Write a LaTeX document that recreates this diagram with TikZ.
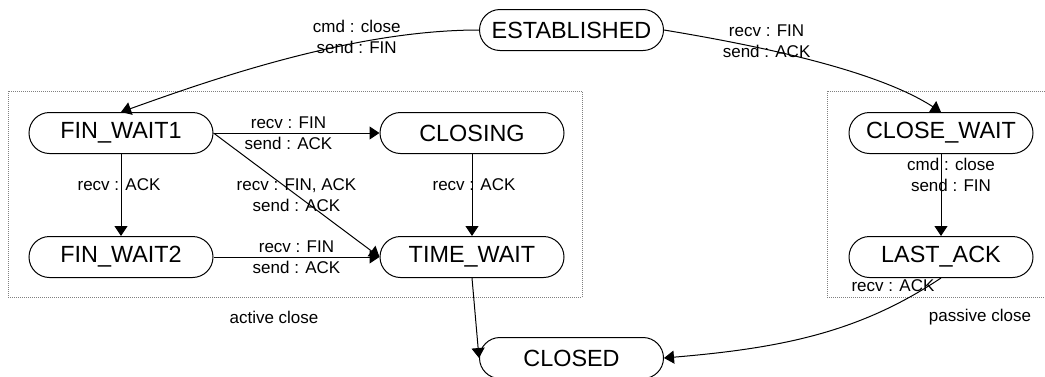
\documentclass[tikz,border=0pt]{standalone}
\usepackage{fontspec}
\setmainfont{Liberation Sans}
\usepackage{tikz}
\usetikzlibrary{shapes,shapes.misc,arrows.meta,positioning}
\tikzset{
  stnode/.style = {rounded rectangle, draw=black, line width=0.5pt, minimum width=92pt, minimum height=20.5pt, inner sep=0pt, font=\fontsize{11.7}{14}\selectfont},
  grpbox/.style = {draw=gray, line width=0.5pt, dash pattern=on 0.5pt off 0.5pt},
  lbl/.style = {align=center, inner sep=0pt, font=\fontsize{8.5}{10.5}\selectfont},
  trans/.style = {draw=black, line width=0.5pt, -{Triangle[length=5pt,width=6.5pt]}}
}

\begin{document}
\begin{tikzpicture}[x=0.5pt,y=-0.5pt]
  \useasboundingbox (0,0) rectangle (1045,376);
  % groups
  \draw[grpbox] (8,91) rectangle (582,297);
  \draw[grpbox] (827,91) rectangle (1052,297);
  \node[lbl] (actlbl) at (274,317) {active close};
  \node[lbl] (paslbl) at (980,317) {passive close};
  % states
  \node[stnode] (est) at (571.5,30) {ESTABLISHED};
  \node[stnode] (fw1) at (121,133) {FIN\_WAIT1};
  \node[stnode, right=83pt of fw1] (closing) {CLOSING};
  \node[stnode, below=41pt of fw1] (fw2) {FIN\_WAIT2};
  \node[stnode, below=41pt of closing] (tw) {TIME\_WAIT};
  \node[stnode] (cw) at (941,133) {CLOSE\_WAIT};
  \node[stnode, below=41pt of cw] (la) {LAST\_ACK};
  \node[stnode] (closed) at (571.5,358) {CLOSED};
  % transitions
  \draw[trans] (est.west) .. controls (350,30) and (205,82) .. node[lbl, pos=0.31, yshift=3pt] {cmd : close\\send : FIN} (fw1.north);
  \draw[trans] (est.east) .. controls (773,48) and (880,72.5) .. node[lbl, pos=0.32, yshift=4pt] {recv : FIN\\send : ACK} (cw.north);
  \draw[trans] (fw1.east) -- node[lbl, xshift=-4pt] {recv : FIN\\send : ACK} (closing.west);
  \draw[trans] (fw1.south) -- node[lbl, pos=0.37, xshift=-1pt] {recv : ACK} (fw2.north);
  \draw[trans] (fw1.east) -- node[lbl] {recv : FIN, ACK\\send : ACK} (tw.west);
  \draw[trans] (closing.south) -- node[lbl, pos=0.37, xshift=1pt] {recv : ACK} (tw.north);
  \draw[trans] (fw2.east) -- node[lbl] {recv : FIN\\send : ACK} (tw.west);
  \draw[trans] (tw.south) -- (closed.west);
  \draw[trans] (cw.south) -- node[lbl, pos=0.25, xshift=5pt] {cmd : close\\send : FIN} (la.north);
  \draw[trans] (la.south) .. controls (860,332) and (783,348) .. node[lbl, pos=0.05, anchor=east, xshift=3pt] {recv : ACK} (closed.east);
\end{tikzpicture}
\end{document}
